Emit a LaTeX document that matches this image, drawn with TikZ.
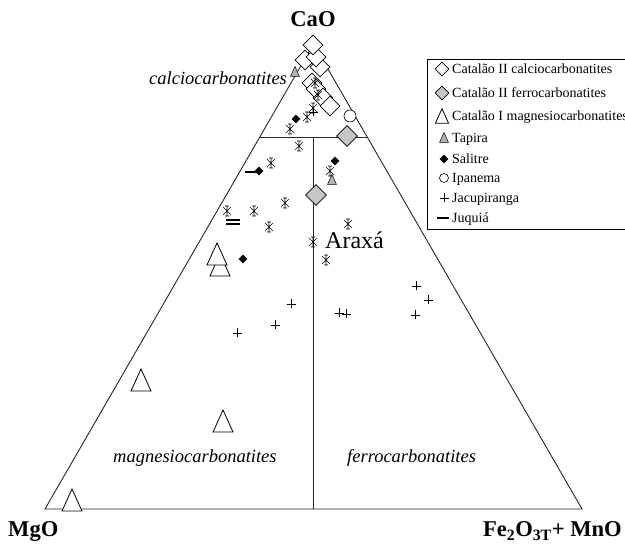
\documentclass[tikz,border=0pt]{standalone}
\usepackage{fontspec}
\setmainfont{Liberation Serif}
\usetikzlibrary{shapes.geometric,calc}

\begin{document}
\begin{tikzpicture}[
  x=1pt, y=-1pt,
  edge/.style={draw=black!85, line width=0.9pt},
  calcio/.style={diamond, draw, fill=white, inner sep=0pt, minimum size=20pt, line width=0.8pt},
  ferro/.style={diamond, draw, fill=gray!45, inner sep=0pt, minimum size=21pt, line width=0.8pt},
  ipanema/.style={circle, draw, fill=white, inner sep=0pt, minimum size=12pt, line width=0.6pt},
  salitre/.style={diamond, fill=black, inner sep=0pt, minimum size=9pt},
  apexlabel/.style={font=\fontsize{22.6}{26}\selectfont\bfseries, inner sep=0pt},
  field/.style={font=\fontsize{18.5}{22}\selectfont\itshape, inner sep=0pt, anchor=base west},
  legtext/.style={font=\fontsize{14}{16}\selectfont, inner sep=0pt, anchor=base west},
  magnesio/.pic={\draw[line width=0.8pt, fill=white] (-10,11)--(10,11)--(0,-11)--cycle;},
  tapira/.pic={\draw[fill=gray!60, line width=0.5pt] (-4.5,4.5)--(4.5,4.5)--(0,-5.5)--cycle;},
  jacupiranga/.pic={\draw[line width=0.7pt] (-4.5,0)--(4.5,0) (0,-4.5)--(0,4.5);},
  juquia/.pic={\draw[line width=2.6pt] (-7,0)--(7,0);},
  araxa/.pic={\draw[line width=0.6pt] (0,-5)--(0,5) (-4,-4)--(4,4) (-4,4)--(4,-4) (-2,-5)--(2,-5) (-2,5)--(2,5);}
]
\useasboundingbox (0,0) rectangle (625,545);

% ternary frame
\coordinate (MgO) at (45,509);
\coordinate (FeMn) at (582,509);
\coordinate (CaO) at (313.5,44);
\coordinate (c80l) at ($(MgO)!0.8!(CaO)$);
\coordinate (c80r) at ($(FeMn)!0.8!(CaO)$);
\coordinate (mid) at ($(MgO)!0.5!(FeMn)$);
\draw[edge] (MgO) -- (FeMn) -- (CaO) -- cycle;
\draw[edge] (c80l) -- (c80r);
\draw[edge] (mid) -- (mid |- c80l);

% corner and field labels
\node[apexlabel, anchor=base] (lCaO) at (313,27) {CaO};
\node[apexlabel, anchor=base west] (lMgO) at (8,537) {MgO};
\node[apexlabel, anchor=base east] (lFeMn) at (622,537) {Fe\textsubscript{2}O\textsubscript{3T}+ MnO};
\node[field] (fcalcio) at (149,85) {calciocarbonatites};
\node[field] (fmagnesio) at (113,463) {magnesiocarbonatites};
\node[field] (fferro) at (347,463) {ferrocarbonatites};

% Catalao I magnesiocarbonatites
\foreach \x/\y [count=\i] in {220/265, 217/254, 141/380, 223/421, 72/500}
  \pic (mg\i) at (\x,\y) {magnesio};

% Catalao II calciocarbonatites
\foreach \x/\y [count=\i] in {305/60, 320/67, 316/57, 313/45, 312/83, 316/89, 323/98, 330/106}
  \node[calcio] (cc\i) at (\x,\y) {};

% Catalao II ferrocarbonatites
\node[ferro] (fc1) at (347,136) {};
\node[ferro] (fc2) at (316,195) {};

\node[ipanema] (ip1) at (350,116) {};
\pic (tp1) at (295,72) {tapira};
\pic (tp2) at (332,180) {tapira};

\pic (jq1) at (233,220) {juquia};
\pic (jq2) at (233,224) {juquia};
\pic (jq3) at (252,172) {juquia};

\foreach \x/\y [count=\i] in {296/119, 335/161, 243/259, 259/171}
  \node[salitre] (sa\i) at (\x,\y) {};

% Araxa
\foreach \x/\y [count=\i] in {315/83, 318/95, 313/108, 307/117, 290/129, 299/146, 271/163, 330/171,
                              285/203, 227/211, 254/211, 269/227, 348/224, 313/242, 326/260}
  \pic (ar\i) at (\x,\y) {araxa};
\node[font=\fontsize{24}{28}\selectfont, inner sep=0pt, anchor=base west] (lAraxa) at (325,249) {Araxá};

% Jacupiranga
\foreach \x/\y [count=\i] in {313/112, 291/304, 275/325, 237/333, 339/313, 346/314, 416/286, 428/300, 415/315}
  \pic (jc\i) at (\x,\y) {jacupiranga};

% legend
\draw[line width=0.8pt, fill=white] (427,59) rectangle (645,229);
\node[calcio, minimum size=14pt] (k1) at (442,69) {};
\node[legtext] (t1) at (452,73.6) {Catalão II calciocarbonatites};
\node[ferro, minimum size=14pt] (k2) at (442,93) {};
\node[legtext] (t2) at (452,97.6) {Catalão II ferrocarbonatites};
\pic[scale=0.66] (k3) at (442,116) {magnesio};
\node[legtext] (t3) at (452,120.6) {Catalão I magnesiocarbonatites};
\pic (k4) at (444,138) {tapira};
\node[legtext] (t4) at (452,142.6) {Tapira};
\node[salitre] (k5) at (444,159) {};
\node[legtext] (t5) at (452,163.6) {Salitre};
\node[ipanema, minimum size=9pt] (k6) at (444,178) {};
\node[legtext] (t6) at (452,182.6) {Ipanema};
\pic (k7) at (444,198) {jacupiranga};
\node[legtext] (t7) at (452,202.6) {Jacupiranga};
\pic[scale=0.9] (k8) at (443,218) {juquia};
\node[legtext] (t8) at (452,222.6) {Juquiá};

\end{tikzpicture}
\end{document}
